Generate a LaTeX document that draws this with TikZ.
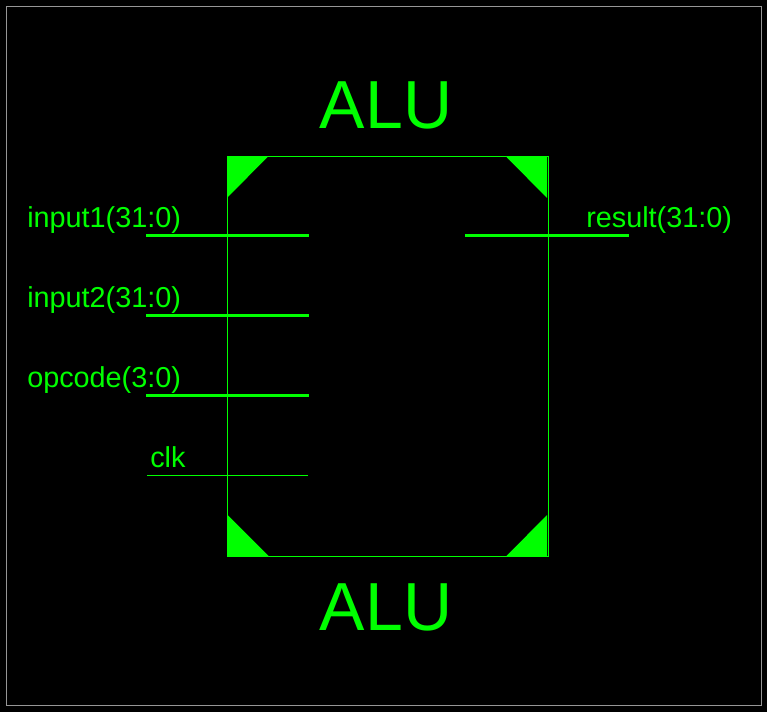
\documentclass[tikz,border=0pt]{standalone}
\usepackage{fontspec}
\setmainfont{Liberation Sans}
\definecolor{sym}{RGB}{0,255,0}
\definecolor{frame}{RGB}{150,150,150}
\tikzset{
  bus/.style={draw=sym,line width=2.25pt},
  sig/.style={draw=sym,line width=0.75pt},
  outline/.style={draw=sym,line width=0.75pt},
  corner/.style={fill=sym,draw=none},
  pinlabel/.style={text=sym,inner sep=0pt,anchor=base west,font=\fontsize{21.6pt}{24pt}\selectfont},
  titlelabel/.style={text=sym,inner sep=0pt,anchor=base,font=\fontsize{51pt}{56pt}\selectfont}
}
\begin{document}
\begin{tikzpicture}[x=0.75pt,y=-0.75pt]
\useasboundingbox (0,0) rectangle (767,712);
\fill[black] (0,0) rectangle (767,712);
\draw[frame,line width=0.75pt] (6.5,6.5) rectangle (761.5,705.5);
% corners
\fill[corner] (227.5,156.5) -- (268,156.5) -- (227.5,197.5) -- cycle;
\fill[corner] (506,156.5) -- (547,156.5) -- (547,198) -- cycle;
\fill[corner] (227.5,515) -- (269,556.5) -- (227.5,556.5) -- cycle;
\fill[corner] (506,556.5) -- (547,515) -- (547,556.5) -- cycle;
% body
\draw[outline] (227.5,156.5) rectangle (548.5,556.5);
% pins
\coordinate (i1a) at (146,235.5); \coordinate (i1b) at (309,235.5);
\coordinate (i2a) at (146,315.5); \coordinate (i2b) at (309,315.5);
\coordinate (opa) at (146,395.5); \coordinate (opb) at (309,395.5);
\coordinate (cka) at (147,475.5); \coordinate (ckb) at (308,475.5);
\coordinate (ra) at (465,235.5);  \coordinate (rb) at (629,235.5);
\draw[bus] (i1a) -- (i1b);
\draw[bus] (i2a) -- (i2b);
\draw[bus] (opa) -- (opb);
\draw[sig] (cka) -- (ckb);
\draw[bus] (ra) -- (rb);
% labels
\node[pinlabel] (input1) at (27,228) {input1(31:0)};
\node[pinlabel] (input2) at (27,308) {input2(31:0)};
\node[pinlabel] (opcode) at (27,388) {opcode(3:0)};
\node[pinlabel] (clk) at (150,468) {clk};
\node[pinlabel] (result) at (586,228) {result(31:0)};
\node[titlelabel] (top) at (386,129) {ALU};
\node[titlelabel] (bottom) at (386,630) {ALU};
\end{tikzpicture}
\end{document}
